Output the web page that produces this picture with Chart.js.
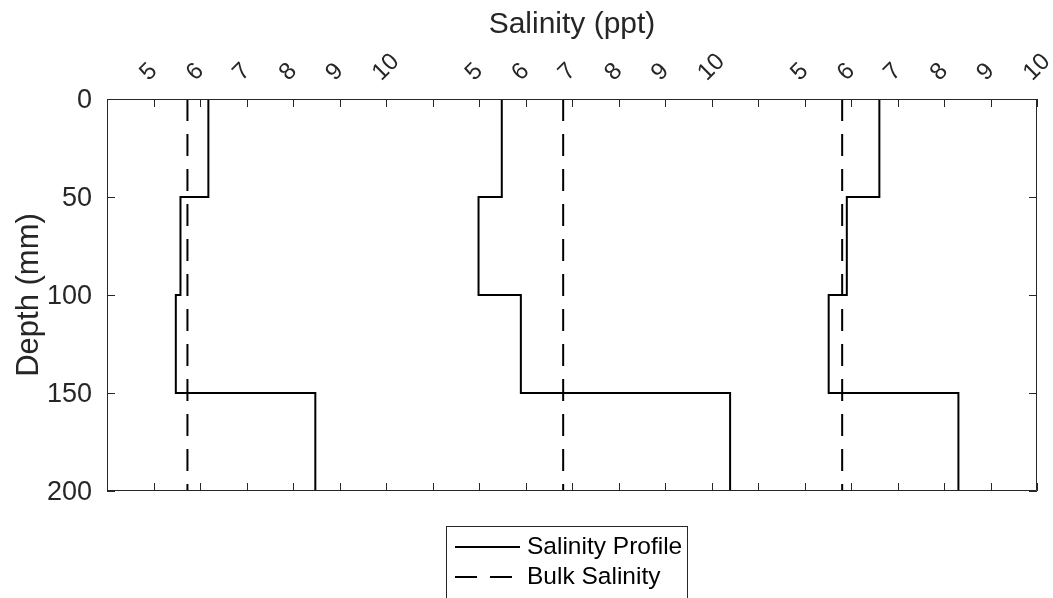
<!DOCTYPE html>
<html>
<head>
<meta charset="utf-8">
<title>Salinity profiles</title>
<script src="https://cdn.jsdelivr.net/npm/chart.js@4.4.1/dist/chart.umd.min.js"></script>
<style>
  html, body { margin: 0; padding: 0; background: #fff; }
  #wrap { width: 1053px; height: 598px; }
</style>
</head>
<body>
<div id="wrap"><canvas id="chart"></canvas></div>
<script>
// section boundaries down the core (mm)
const depthEdges = [0, 50, 100, 150, 200];
// salinity of each 50 mm section (ppt), one array per core
const profile1 = [6.18, 5.58, 5.48, 8.48];
const profile2 = [5.49, 4.99, 5.90, 10.40];
const profile3 = [6.61, 5.91, 5.52, 8.31];
// bulk salinity of each core (ppt)
const bulkSalinity = [5.73, 6.81, 5.81];
const depthTicks = [0, 50, 100, 150, 200];
const salinityTicks = [5, 6, 7, 8, 9, 10];

// the three panels share one x axis, each panel covers 4..11 ppt
const panelMin = 4;
const panelSpan = 7;
const toAxis = (panel, v) => panel * panelSpan + (v - panelMin);

const FONT = '"Liberation Sans", Arial, Helvetica, sans-serif';
const AXIS_COLOR = '#262626';

const datasets = [];
[profile1, profile2, profile3].forEach((prof, i) => {
  const pts = prof.map((v, k) => ({ x: toAxis(i, v), y: depthEdges[k] }));
  pts.push({ x: toAxis(i, prof[prof.length - 1]), y: depthEdges[depthEdges.length - 1] });
  datasets.push({
    label: 'Salinity Profile',
    data: pts,
    stepped: 'after',
    borderColor: '#000',
    borderWidth: 2,
    pointRadius: 0,
    fill: false
  });
});
bulkSalinity.forEach((v, i) => {
  datasets.push({
    label: 'Bulk Salinity',
    data: [{ x: toAxis(i, v), y: depthEdges[0] }, { x: toAxis(i, v), y: depthEdges[depthEdges.length - 1] }],
    borderColor: '#000',
    borderWidth: 2,
    borderDash: [22, 13],
    pointRadius: 0,
    fill: false
  });
});

// box round the plot with MATLAB style inward ticks on all four sides
const boxTicks = {
  id: 'boxTicks',
  afterDatasetsDraw(chart) {
    const { ctx, chartArea: a, scales: { x, y } } = chart;
    const len = 8;
    ctx.save();
    ctx.strokeStyle = AXIS_COLOR;
    ctx.lineWidth = 1;
    ctx.beginPath();
    x.ticks.forEach(t => {
      const px = Math.round(x.getPixelForValue(t.value)) + 0.5;
      ctx.moveTo(px, a.top); ctx.lineTo(px, a.top + len);
      ctx.moveTo(px, a.bottom); ctx.lineTo(px, a.bottom - len);
    });
    y.ticks.forEach(t => {
      const py = Math.round(y.getPixelForValue(t.value)) + 0.5;
      ctx.moveTo(a.left, py); ctx.lineTo(a.left + len, py);
      ctx.moveTo(a.right, py); ctx.lineTo(a.right - len, py);
    });
    ctx.rect(a.left + 0.5, a.top + 0.5, a.width - 1, a.height - 1);
    ctx.stroke();
    ctx.restore();
  }
};

// boxed legend below the plot, one row per line style
const boxLegend = {
  id: 'boxLegend',
  afterDraw(chart, args, opts) {
    const ctx = chart.ctx;
    const items = [];
    chart.data.datasets.forEach(ds => {
      if (!items.find(it => it.label === ds.label)) items.push(ds);
    });
    ctx.save();
    ctx.strokeStyle = AXIS_COLOR;
    ctx.lineWidth = 1;
    ctx.strokeRect(opts.left + 0.5, opts.top + 0.5, opts.width, opts.height);
    ctx.font = opts.fontSize + 'px ' + FONT;
    ctx.textBaseline = 'middle';
    ctx.fillStyle = '#000';
    items.forEach((ds, i) => {
      const cy = opts.top + opts.firstRow + i * opts.rowGap;
      ctx.beginPath();
      ctx.setLineDash(ds.borderDash || []);
      ctx.lineWidth = ds.borderWidth;
      ctx.strokeStyle = ds.borderColor;
      ctx.moveTo(opts.left + 9, cy);
      ctx.lineTo(opts.left + 74, cy);
      ctx.stroke();
      ctx.setLineDash([]);
      ctx.fillText(ds.label, opts.left + 81, cy);
    });
    ctx.restore();
  }
};

new Chart(document.getElementById('chart'), {
  type: 'line',
  data: { datasets },
  options: {
    responsive: true,
    maintainAspectRatio: false,
    animation: false,
    layout: { padding: { left: 0, right: 16, top: 0, bottom: 107 } },
    plugins: {
      legend: { display: false },
      tooltip: { enabled: false },
      boxLegend: { left: 446, top: 526, width: 241, height: 90, firstRow: 21, rowGap: 30, fontSize: 24.5 }
    },
    scales: {
      x: {
        type: 'linear',
        position: 'top',
        min: 0,
        max: 2 * panelSpan + salinityTicks[salinityTicks.length - 1] - panelMin,
        afterFit: s => { s.height = 99; s.paddingLeft = 0; s.paddingRight = 0; },
        grid: { display: false, drawTicks: false },
        border: { display: false },
        ticks: {
          stepSize: 1,
          autoSkip: false,
          minRotation: 45,
          maxRotation: 45,
          padding: 12,
          labelOffset: 11,
          color: AXIS_COLOR,
          font: { family: FONT, size: 24 },
          callback: val => {
            const panel = Math.min(Math.floor(val / panelSpan), 2);
            const v = val - panel * panelSpan + panelMin;
            return salinityTicks.includes(v) ? String(v) : '';
          }
        },
        title: {
          display: true,
          text: 'Salinity (ppt)',
          color: AXIS_COLOR,
          font: { family: FONT, size: 30 },
          padding: { top: 7, bottom: 0 }
        }
      },
      y: {
        type: 'linear',
        reverse: true,
        min: depthTicks[0],
        max: depthTicks[depthTicks.length - 1],
        afterFit: s => { s.width = 107; },
        afterBuildTicks: s => { s.ticks = depthTicks.map(v => ({ value: v })); },
        grid: { display: false, drawTicks: false },
        border: { display: false },
        ticks: {
          padding: 15,
          labelOffset: 2,
          color: AXIS_COLOR,
          font: { family: FONT, size: 27 }
        },
        title: {
          display: true,
          text: 'Depth (mm)',
          color: AXIS_COLOR,
          font: { family: FONT, size: 31 },
          padding: { top: 11, bottom: 0 }
        }
      }
    }
  },
  plugins: [boxTicks, boxLegend]
});
</script>
</body>
</html>
